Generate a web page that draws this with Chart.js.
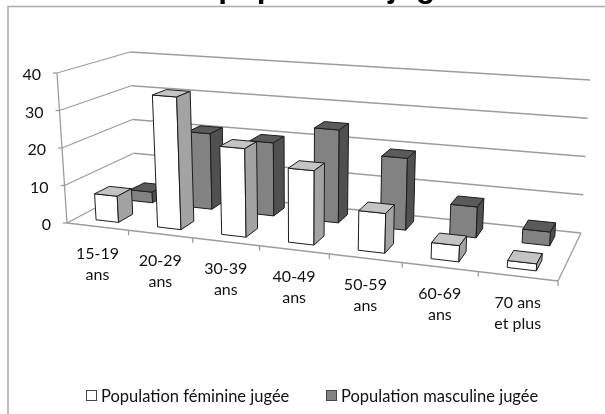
<!DOCTYPE html>
<html><head><meta charset="utf-8">
<style>html,body{margin:0;padding:0;background:#fff}canvas{display:block}</style>
<script src="https://cdn.jsdelivr.net/npm/chart.js@4"></script>
</head><body><canvas id="c" width="605" height="414"></canvas>
<script>
const categories = [['15-19','ans'],['20-29','ans'],['30-39','ans'],['40-49','ans'],['50-59','ans'],['60-69','ans'],['70 ans','et plus']];
const feminine = [7, 35, 23, 19, 10, 4, 1.7];
const masculine = [3, 21, 20, 25, 19, 8, 3.5];
const seriesNames = ['Population féminine jugée', 'Population masculine jugée'];
const titleText = 'de la population jugée';
const yTicks = {min: 0, max: 40, stepSize: 10};
const FONT = 'Lato';

// corners of the 3D box used as projection frame: [x, y] on the page
const frame = {
  fl0:[67,223], fr0:[558,281], bl0:[135,187], br0:[581,233],
  fl1:[57,73],  fr1:[569,113], bl1:[130,52],  br1:[590,80]
};
const legendSlots = [{box:86,text:101},{box:326,text:341}];
const warp = 1.162;
function project(u, v, w){
  const t = u/(u + warp*(1-u));
  const mix = (a,b,k)=>[a[0]+(b[0]-a[0])*k, a[1]+(b[1]-a[1])*k];
  const f0 = mix(frame.fl0,frame.fr0,t), f1 = mix(frame.fl1,frame.fr1,t);
  const b0 = mix(frame.bl0,frame.br0,t), b1 = mix(frame.bl1,frame.br1,t);
  return mix(mix(f0,b0,v), mix(f1,b1,v), w);
}
const rows = [
  {v0:.15, v1:.37, front:'#ffffff', top:'#c4c4c4', side:'#a3a3a3'},
  {v0:.68, v1:.88, front:'#828282', top:'#5a5a5a', side:'#505050'}
];
function poly(ctx, pts, fill){
  ctx.beginPath();
  pts.forEach((p,i)=> i?ctx.lineTo(p[0],p[1]):ctx.moveTo(p[0],p[1]));
  ctx.closePath();
  ctx.fillStyle = fill; ctx.fill();
  ctx.strokeStyle = '#1c1c1c'; ctx.lineWidth = 1; ctx.stroke();
}
function line(ctx,a,b){ctx.beginPath();ctx.moveTo(a[0],a[1]);ctx.lineTo(b[0],b[1]);ctx.stroke();}

const persp = {
  id:'persp',
  beforeDatasetsDraw(chart){
    const ctx = chart.ctx, area = chart.chartArea, xs = chart.scales.x, ys = chart.scales.y;
    const U = px => (px-area.left)/(area.right-area.left);
    const W = py => (area.bottom-py)/(area.bottom-area.top);
    ctx.save();
    // outer frame
    ctx.strokeStyle='#aaaaaa'; ctx.lineWidth=1.5;
    ctx.beginPath();ctx.moveTo(8,414);ctx.lineTo(8,6.5);ctx.lineTo(605,6.5);ctx.stroke();
    // walls and floor
    ctx.strokeStyle='#9c9c9c'; ctx.lineWidth=1.3;
    ys.ticks.forEach(tk=>{
      const w = W(ys.getPixelForValue(tk.value));
      line(ctx,project(0,0,w),project(0,1,w));
      line(ctx,project(0,1,w),project(1,1,w));
      const p = project(0,0,w);
      line(ctx,[p[0]-4,p[1]],p);
    });
    line(ctx,project(0,0,0),project(0,0,1));
    line(ctx,project(0,0,0),project(1,0,0));
    line(ctx,project(1,0,0),project(1,1,0));
    const half = (xs.getPixelForValue(1)-xs.getPixelForValue(0))/2;
    xs.ticks.forEach((tk,i)=>{
      const u = U(xs.getPixelForValue(tk.value)+half);
      const p = project(u,0,0);
      line(ctx,p,[p[0],p[1]+5]);
    });
    // bars: back row first, left to right
    [1,0].forEach(ds=>{
      const r = rows[ds];
      chart.getDatasetMeta(ds).data.forEach(el=>{
        const u0=U(el.x-el.width/2), u1=U(el.x+el.width/2), w=W(el.y), b=W(el.base);
        const p=(u,v,h)=>project(u,v,h);
        poly(ctx,[p(u0,r.v0,b),p(u1,r.v0,b),p(u1,r.v0,w),p(u0,r.v0,w)],r.front);
        poly(ctx,[p(u0,r.v0,w),p(u1,r.v0,w),p(u1,r.v1,w),p(u0,r.v1,w)],r.top);
        poly(ctx,[p(u1,r.v0,b),p(u1,r.v1,b),p(u1,r.v1,w),p(u1,r.v0,w)],r.side);
      });
    });
    // tick labels
    ctx.fillStyle='#111'; ctx.font='16px '+FONT; ctx.textBaseline='middle';
    ctx.textAlign='right';
    ys.ticks.forEach(tk=>{
      const p = project(0,0,W(ys.getPixelForValue(tk.value)));
      ctx.fillText(tk.label,p[0]-16,p[1]+2);
    });
    ctx.textAlign='center';
    xs.ticks.forEach(tk=>{
      const p = project(U(xs.getPixelForValue(tk.value)),0,0);
      [].concat(tk.label).forEach((s,i)=>ctx.fillText(s,p[0],p[1]+27+i*21));
    });
    // legend
    ctx.textAlign='left'; ctx.font='16.5px '+FONT;
    chart.data.datasets.forEach((d,i)=>{
      const s = legendSlots[i];
      ctx.fillStyle=d.backgroundColor; ctx.strokeStyle=d.borderColor; ctx.lineWidth=1;
      ctx.fillRect(s.box+.5,390.5,10,10); ctx.strokeRect(s.box+.5,390.5,10,10);
      ctx.fillStyle='#111'; ctx.fillText(d.label,s.text,396.5);
    });
    ctx.restore();
    return false;
  }
};

new Chart(document.getElementById('c'),{
  type:'bar',
  data:{labels:categories,datasets:[
    {label:seriesNames[0],data:feminine,backgroundColor:'#ffffff',borderColor:'#444444',borderWidth:1},
    {label:seriesNames[1],data:masculine,backgroundColor:'#828282',borderColor:'#444444',borderWidth:1}
  ]},
  options:{
    responsive:false,animation:false,
    layout:{padding:{left:3,right:0,top:0,bottom:0}},
    datasets:{bar:{grouped:false,barPercentage:.37,categoryPercentage:1}},
    scales:{
      x:{display:false},
      y:{display:false,min:yTicks.min,max:yTicks.max,ticks:{stepSize:yTicks.stepSize}}
    },
    plugins:{
      title:{display:true,text:titleText,color:'#000',font:{family:'Liberation Sans',size:31.5,weight:'bold'},padding:{top:-31,bottom:0}},
      legend:{display:false},
      tooltip:{enabled:false}
    }
  },
  plugins:[persp]
});
</script></body></html>
